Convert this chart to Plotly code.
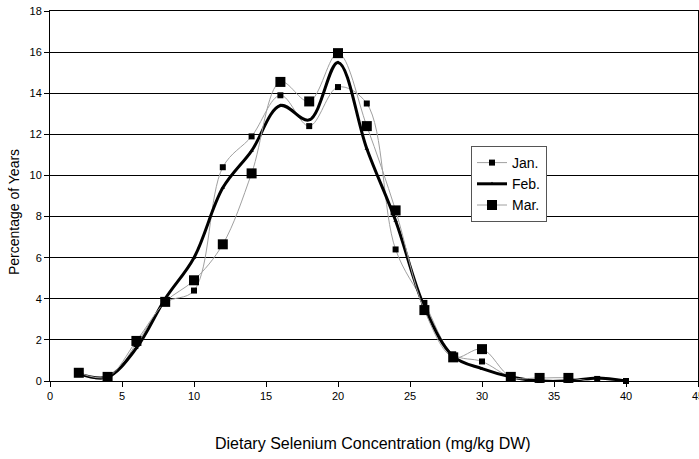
import plotly.graph_objects as go

conc = [2, 4, 6, 8, 10, 12, 14, 16, 18, 20, 22, 24, 26, 28, 30, 32, 34, 36, 38, 40]
jan = [0.4, 0.1, 1.8, 3.8, 4.4, 10.4, 11.9, 13.9, 12.4, 14.3, 13.5, 6.4, 3.8, 1.3, 0.95, 0.2, 0.05, 0.05, 0.1, 0.0]
feb = [0.35, 0.2, 1.6, 4.0, 6.0, 9.4, 11.2, 13.4, 12.7, 15.5, 11.3, 7.8, 3.6, 1.2, 0.6, 0.2, 0.0, 0.0, 0.15, 0.0]
mar = [0.4, 0.2, 1.95, 3.85, 4.9, 6.65, 10.1, 14.55, 13.6, 15.95, 12.4, 8.3, 3.45, 1.15, 1.55, 0.2, 0.15, 0.15, -0.05, -0.05]

fig = go.Figure()
fig.add_trace(go.Scatter(
    x=conc, y=jan, name="Jan.", mode="lines+markers",
    line=dict(color="#a0a0a0", width=1, shape="spline", smoothing=1),
    marker=dict(symbol="square", size=6, color="black"),
    cliponaxis=False))
fig.add_trace(go.Scatter(
    x=conc, y=feb, name="Feb.", mode="lines+markers",
    line=dict(color="black", width=3, shape="spline", smoothing=1),
    marker=dict(symbol="triangle-up", size=4, color="black"),
    cliponaxis=False))
fig.add_trace(go.Scatter(
    x=conc, y=mar, name="Mar.", mode="lines+markers",
    line=dict(color="#a0a0a0", width=1, shape="spline", smoothing=1),
    marker=dict(symbol="square", size=10, color="black"),
    cliponaxis=False))

fig.update_layout(
    width=699, height=459,
    margin=dict(l=50, r=1, t=11, b=78),
    paper_bgcolor="white", plot_bgcolor="white",
    font=dict(family="Liberation Sans, Arial, sans-serif", color="black", size=11),
    showlegend=True,
    legend=dict(x=(471 - 50) / 648, y=(381 - 146) / 370, xanchor="left", yanchor="top",
                bgcolor="white", bordercolor="#555555", borderwidth=1,
                font=dict(size=14), itemwidth=30, tracegroupgap=0),
    xaxis=dict(range=[0, 45], dtick=5, tick0=0, showgrid=False,
               showline=True, linecolor="black", linewidth=1, mirror=True,
               ticks="outside", ticklen=5, tickcolor="black",
               ticklabeloverflow="allow",
               zeroline=False, automargin=False),
    yaxis=dict(range=[0, 18], dtick=2, tick0=0, showgrid=True,
               gridcolor="black", gridwidth=1,
               showline=True, linecolor="black", linewidth=1, mirror=True,
               ticks="outside", ticklen=5, tickcolor="black",
               ticklabeloverflow="allow",
               zeroline=False, automargin=False),
    annotations=[
        dict(text="Dietary Selenium Concentration (mg/kg DW)", xref="paper", yref="paper",
             x=(373 - 50) / 648, y=-(443 - 381) / 370, xanchor="center", yanchor="middle",
             showarrow=False, font=dict(size=16)),
        dict(text="Percentage of Years", xref="paper", yref="paper",
             x=-(50 - 14) / 648, y=(381 - 212) / 370, xanchor="center", yanchor="middle",
             textangle=-90, showarrow=False, font=dict(size=14)),
    ],
)
fig.write_html("out.html", config={"displayModeBar": False},
               post_script="document.body.style.margin='0';document.body.style.overflow='hidden';")
